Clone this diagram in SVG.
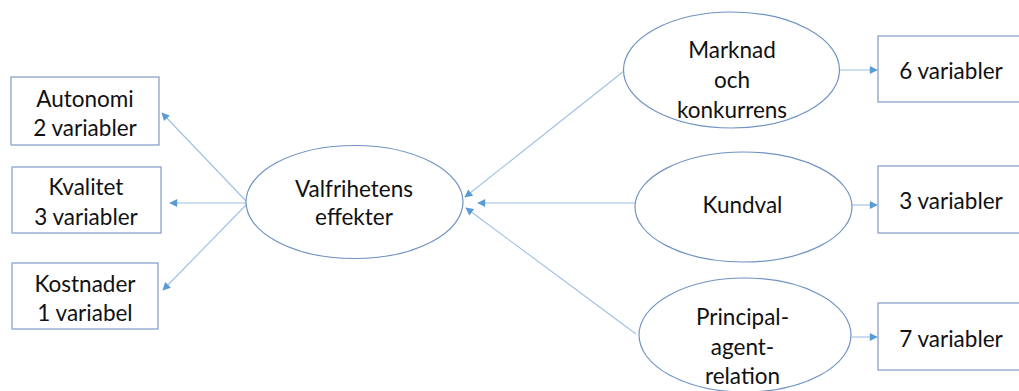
<svg xmlns="http://www.w3.org/2000/svg" width="1019" height="391" viewBox="0 0 1019 391">
  <defs>
    <style>
      .box { fill: #ffffff; stroke: #7f9cc4; stroke-width: 1.2; }
      .ell { fill: #ffffff; stroke: #7093c3; stroke-width: 1.2; }
      .lbl { font-family: Lato, "Open Sans", "Liberation Sans", sans-serif; font-size: 22.5px; fill: #111111; text-anchor: middle; }
      .conn { stroke: #9dc0e6; stroke-width: 1.1; fill: none; marker-end: url(#arrow); }
    </style>
    <marker id="arrow" viewBox="0 0 10 10" refX="9" refY="5" markerWidth="9" markerHeight="8" markerUnits="userSpaceOnUse" orient="auto">
      <path d="M0,0 L10,5 L0,10 z" fill="#5b9bd5"/>
    </marker>
  </defs>
  <rect width="1019" height="391" fill="#ffffff"/>

  <g id="connectors">
    <line class="conn" x1="247" y1="202" x2="162" y2="113"/>
    <line class="conn" x1="246" y1="203" x2="170" y2="203"/>
    <line class="conn" x1="247" y1="204" x2="163" y2="290"/>
    <line class="conn" x1="624" y1="71" x2="465" y2="197"/>
    <line class="conn" x1="635" y1="203" x2="478" y2="203"/>
    <line class="conn" x1="636" y1="334" x2="466" y2="208"/>
    <line class="conn" x1="840" y1="70" x2="877" y2="70"/>
    <line class="conn" x1="852" y1="205" x2="877" y2="205"/>
    <line class="conn" x1="852" y1="337" x2="877" y2="337"/>
  </g>

  <g id="autonomi">
    <rect class="box" x="11" y="77" width="148" height="68"/>
    <text class="lbl" x="85" y="107">Autonomi</text>
    <text class="lbl" x="85" y="136">2 variabler</text>
  </g>
  <g id="kvalitet">
    <rect class="box" x="12" y="167" width="149" height="66"/>
    <text class="lbl" x="86" y="195">Kvalitet</text>
    <text class="lbl" x="86" y="225">3 variabler</text>
  </g>
  <g id="kostnader">
    <rect class="box" x="12" y="263" width="146" height="66"/>
    <text class="lbl" x="85" y="292">Kostnader</text>
    <text class="lbl" x="85" y="321">1 variabel</text>
  </g>

  <g id="valfrihetens-effekter">
    <ellipse class="ell" cx="354.5" cy="202" rx="108.5" ry="56.5"/>
    <text class="lbl" x="354" y="197">Valfrihetens</text>
    <text class="lbl" x="354" y="225">effekter</text>
  </g>

  <g id="marknad">
    <ellipse class="ell" cx="731.5" cy="70" rx="108" ry="58"/>
    <text class="lbl" x="732" y="58">Marknad</text>
    <text class="lbl" x="732" y="88">och</text>
    <text class="lbl" x="732" y="118">konkurrens</text>
  </g>
  <g id="kundval">
    <ellipse class="ell" cx="743.5" cy="207" rx="108.5" ry="55"/>
    <text class="lbl" x="742.5" y="213">Kundval</text>
  </g>
  <g id="principal-agent">
    <ellipse class="ell" cx="745" cy="335" rx="106" ry="57"/>
    <text class="lbl" x="742.5" y="325">Principal-</text>
    <text class="lbl" x="742.5" y="355">agent-</text>
    <text class="lbl" x="742.5" y="384">relation</text>
  </g>

  <g id="var6">
    <rect class="box" x="878" y="36" width="145" height="66"/>
    <text class="lbl" x="951" y="79">6 variabler</text>
  </g>
  <g id="var3">
    <rect class="box" x="878" y="166" width="145" height="67"/>
    <text class="lbl" x="951" y="209">3 variabler</text>
  </g>
  <g id="var7">
    <rect class="box" x="878" y="303" width="145" height="67"/>
    <text class="lbl" x="951" y="347">7 variabler</text>
  </g>
</svg>
